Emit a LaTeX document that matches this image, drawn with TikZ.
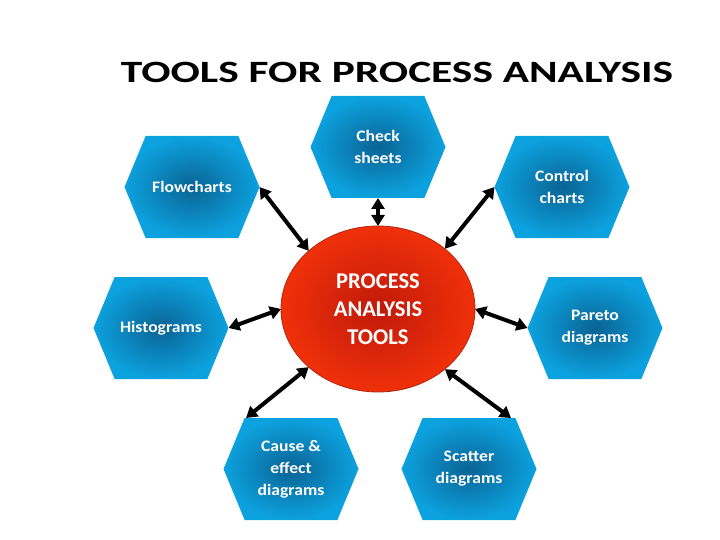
\documentclass[tikz,border=0pt]{standalone}
\usepackage{fontspec}
\setmainfont{Carlito}
\newfontfamily\titlefont[FakeStretch=1.40]{Carlito}
\newfontfamily\hexfont[FakeStretch=1.10]{Carlito}
\usetikzlibrary{shapes.symbols,shapes.geometric,arrows.meta}
\definecolor{myBlue}{HTML}{0CA2DF}
\definecolor{myDarkBlue}{HTML}{0A6394}
\definecolor{myRed}{HTML}{F0300A}
\definecolor{myDarkRed}{HTML}{C01A0A}
\definecolor{myRim}{HTML}{B02810}

\begin{document}
\begin{tikzpicture}[x=1pt, y=-1pt, >={Triangle[length=11pt,width=13pt]}]

  \tikzstyle{H}=[signal, signal to=east and west, signal pointer angle=135, minimum width=135pt, minimum height=102pt, inner sep=0pt, outer sep=0pt, shade, inner color=myDarkBlue, outer color=myBlue, text=white, align=center, font=\hexfont\bfseries\fontsize{16}{22}\selectfont]
  \tikzstyle{P}=[ellipse, minimum width=194pt, minimum height=166pt, inner sep=0pt, outer sep=0pt, shade, inner color=myDarkRed, outer color=myRed, draw=myRim, line width=0.8pt, text=white, align=center, font=\bfseries\fontsize{22.5}{28}\selectfont]
  \tikzstyle{A}=[<->, line width=4pt, black]

  \useasboundingbox (0,0) rectangle (720,540);

  \node[font=\titlefont\bfseries\fontsize{31}{36}\selectfont] at (397,72) (title) {TOOLS FOR PROCESS ANALYSIS};

  \node[P] at (378,309) (proc) {PROCESS\\ANALYSIS\\TOOLS};

  \node[H] at (378,147) (check) {Check\\sheets};
  \node[H] at (192,187) (flow) {Flowcharts};
  \node[H] at (562,187) (control) {Control\\charts};
  \node[H] at (161,328) (hist) {Histograms};
  \node[H] at (595,328) (pareto) {Pareto\\diagrams};
  \node[H] at (291,469) (cause) {Cause \&\\effect\\diagrams};
  \node[H] at (469,469) (scatter) {Scatter\\diagrams};

  \draw [A] (check.south) to (proc.north);
  \draw [A] (flow.east) to (proc.140);
  \draw [A] (control.west) to (proc.42);
  \draw [A] (hist.east) to (proc.180);
  \draw [A] (pareto.west) to (proc.0);
  \draw [A] ([xshift=-45pt]cause.north) to (proc.220);
  \draw [A] ([xshift=42pt]scatter.north) to (proc.-42);

\end{tikzpicture}
\end{document}
